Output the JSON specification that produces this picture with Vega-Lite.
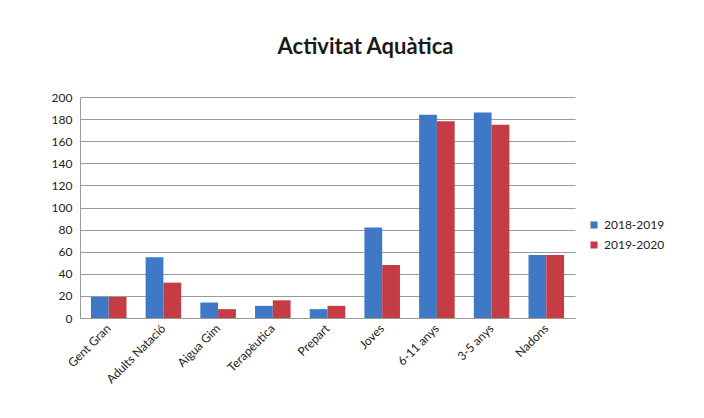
{
  "$schema": "https://vega.github.io/schema/vega-lite/v6.json",
  "autosize": {"type": "none"},
  "padding": {"left": 80, "top": 97, "right": 129, "bottom": 100},
  "width": 495,
  "height": 221,
  "background": "white",
  "title": {
    "text": "Activitat Aquàtica",
    "anchor": "middle",
    "dx": 38,
    "offset": 32,
    "fontSize": 22,
    "font": "Lato",
    "fontWeight": "bold",
    "color": "#1a1a1a"
  },
  "data": {
    "values": [
      {"activitat": "Gent Gran", "curs": "2018-2019", "valor": 19},
      {"activitat": "Gent Gran", "curs": "2019-2020", "valor": 19},
      {"activitat": "Adults Natació", "curs": "2018-2019", "valor": 55},
      {"activitat": "Adults Natació", "curs": "2019-2020", "valor": 32},
      {"activitat": "Aigua Gim", "curs": "2018-2019", "valor": 14},
      {"activitat": "Aigua Gim", "curs": "2019-2020", "valor": 8},
      {"activitat": "Terapèutica", "curs": "2018-2019", "valor": 11},
      {"activitat": "Terapèutica", "curs": "2019-2020", "valor": 16},
      {"activitat": "Prepart", "curs": "2018-2019", "valor": 8},
      {"activitat": "Prepart", "curs": "2019-2020", "valor": 11},
      {"activitat": "Joves", "curs": "2018-2019", "valor": 82},
      {"activitat": "Joves", "curs": "2019-2020", "valor": 48},
      {"activitat": "6-11 anys", "curs": "2018-2019", "valor": 184},
      {"activitat": "6-11 anys", "curs": "2019-2020", "valor": 178},
      {"activitat": "3-5 anys", "curs": "2018-2019", "valor": 186},
      {"activitat": "3-5 anys", "curs": "2019-2020", "valor": 175},
      {"activitat": "Nadons", "curs": "2018-2019", "valor": 57},
      {"activitat": "Nadons", "curs": "2019-2020", "valor": 57}
    ]
  },
  "mark": {"type": "bar", "stroke": null},
  "encoding": {
    "x": {
      "field": "activitat",
      "type": "nominal",
      "sort": null,
      "title": null,
      "scale": {"paddingInner": 0.35, "paddingOuter": 0.2},
      "axis": {
        "labelAngle": -45,
        "labelAlign": "right",
        "labelBaseline": "middle",
        "labelFont": "Lato",
        "labelFontSize": 12,
        "labelColor": "#222",
        "ticks": false,
        "domainColor": "#999",
        "labelPadding": 8
      }
    },
    "xOffset": {"field": "curs", "type": "nominal"},
    "y": {
      "field": "valor",
      "type": "quantitative",
      "title": null,
      "scale": {"domain": [0, 200], "nice": false},
      "axis": {
        "values": [0, 20, 40, 60, 80, 100, 120, 140, 160, 180, 200],
        "labelFont": "Lato",
        "labelFontSize": 12,
        "labelColor": "#222",
        "ticks": false,
        "labelPadding": 8,
        "gridColor": "#9a9a9a",
        "domainColor": "#999"
      }
    },
    "color": {
      "field": "curs",
      "type": "nominal",
      "scale": {"domain": ["2018-2019", "2019-2020"], "range": ["#3f78c4", "#c63c44"]},
      "legend": {
        "title": null,
        "orient": "none",
        "legendX": 508,
        "legendY": 122,
        "symbolType": "square",
        "symbolSize": 50,
        "rowPadding": 8,
        "labelFont": "Lato",
        "labelFontSize": 12,
        "labelColor": "#222"
      }
    }
  },
  "config": {"view": {"stroke": null}}
}
